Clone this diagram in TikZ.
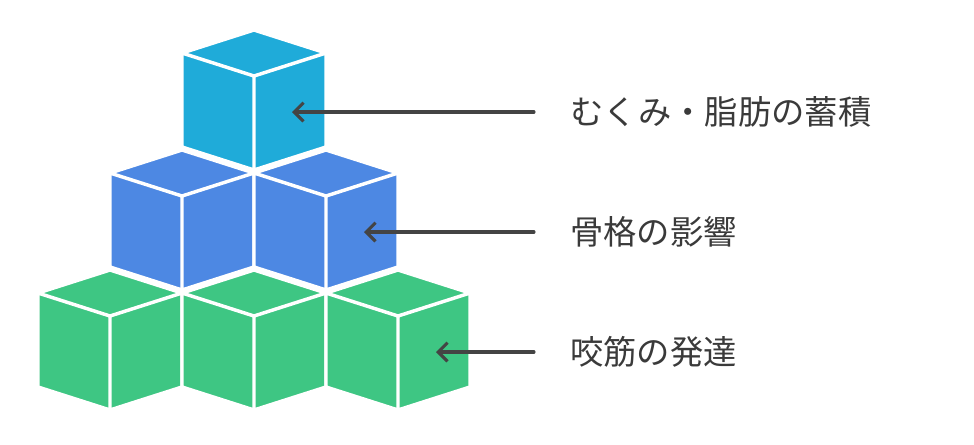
\documentclass[tikz,border=0pt]{standalone}
\usepackage{fontspec}
\newfontfamily\cjk{Noto Sans CJK JP}
\usetikzlibrary{arrows.meta, positioning}
\definecolor{cbtop}{HTML}{1FABD9}
\definecolor{cbmid}{HTML}{4D88E3}
\definecolor{cbbot}{HTML}{3EC683}
\definecolor{cbtext}{HTML}{3A3A3A}
\definecolor{cbarrow}{HTML}{444444}

% one cube: top vertex at (#2,#3), fill #1
\newcommand{\cubeblock}[3]{%
  \filldraw[fill=#1, draw=white, line width=2.6pt, line join=miter]
    (#2,#3) -- ++(72,23) -- ++(-72,23) -- ++(-72,-23) -- cycle
    (#2,#3+46) -- ++(72,-23) -- ++(0,94) -- ++(-72,23) -- cycle
    (#2,#3+46) -- ++(-72,-23) -- ++(0,94) -- ++(72,23) -- cycle;
}

\begin{document}
\begin{tikzpicture}[
  x=0.75pt, y=-0.75pt,
  label/.style={font=\cjk\fontsize{25}{30}\selectfont, text=cbtext, anchor=west, inner sep=0pt},
  pointer/.style={-{Straight Barb[length=7pt, width=14pt]}, cbarrow, line width=2.3pt, line cap=round},
]
\useasboundingbox (0,0) rectangle (974,444);

% bottom row
\cubeblock{cbbot}{110}{270}
\cubeblock{cbbot}{254}{270}
\cubeblock{cbbot}{398}{270}
% middle row
\cubeblock{cbmid}{182}{150}
\cubeblock{cbmid}{326}{150}
% top
\cubeblock{cbtop}{254}{30}

% labels
\node[label] (l1) at (570,112) {むくみ・脂肪の蓄積};
\node[label] (l2) at (570,232) {骨格の影響};
\node[label] (l3) at (570,352) {咬筋の発達};

\coordinate (t1) at (292,112);
\coordinate (t2) at (364,232);
\coordinate (t3) at (436,352);

\draw[pointer] ([xshift=-27pt]l1.west) -- (t1);
\draw[pointer] ([xshift=-27pt]l2.west) -- (t2);
\draw[pointer] ([xshift=-27pt]l3.west) -- (t3);
\end{tikzpicture}
\end{document}
